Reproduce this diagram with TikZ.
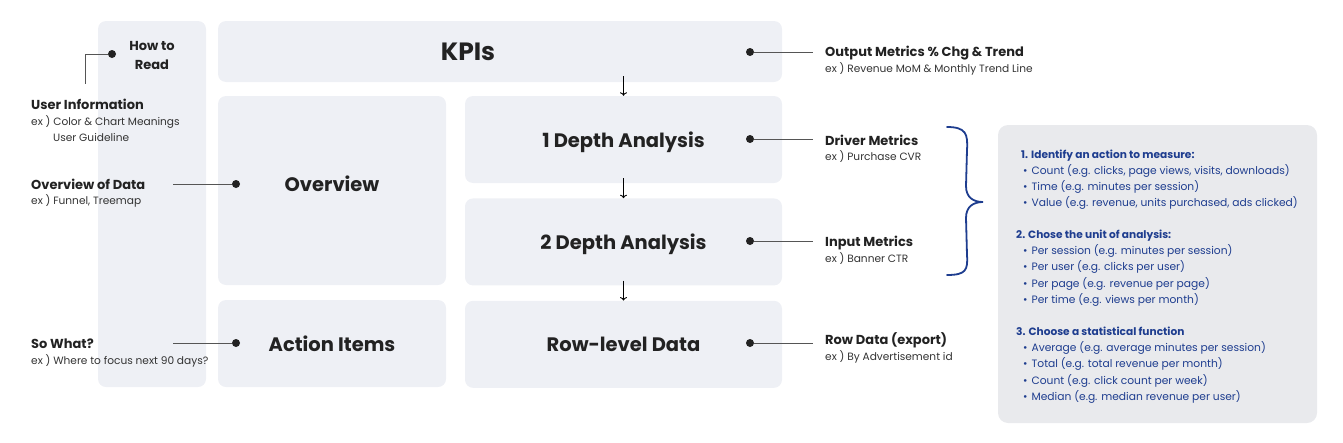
\documentclass[tikz,border=0pt]{standalone}
\usepackage{fontspec}
\setmainfont{Poppins}
\usetikzlibrary{positioning,arrows.meta}
\definecolor{boxgray}{HTML}{EEF0F5}
\definecolor{panelgray}{HTML}{E9EAED}
\definecolor{ink}{HTML}{222222}
\definecolor{notegray}{HTML}{333333}
\definecolor{linegray}{HTML}{555555}
\definecolor{navy}{HTML}{1E3D8F}
\tikzset{x=1pt, y=-1pt,
  block/.style={fill=boxgray, rounded corners=8pt, inner sep=0pt, text depth=0pt, text=ink, font=\bfseries\fontsize{19.5}{24}\selectfont},
  title/.style={inner sep=0pt, text depth=0pt, text=ink, font=\bfseries\fontsize{19.5}{24}\selectfont},
  heading/.style={anchor=base west, inner sep=0pt, text=ink, font=\bfseries\fontsize{13}{16}\selectfont},
  note/.style={anchor=base west, inner sep=0pt, text=notegray, font=\fontsize{10.6}{13}\selectfont},
  pindot/.style={circle, fill=ink, inner sep=0pt, minimum size=8pt},
  leader/.style={draw=linegray, line width=0.8pt},
  flow/.style={-{To[length=3.5pt, width=7pt]}, draw=black, line width=0.9pt},
  brace/.style={draw=navy, line width=1.8pt, line cap=round},
  steps/.style={anchor=north west, inner sep=0pt, text=navy, align=left, font=\fontsize{10.7}{16.13}\selectfont}
}
\newcommand{\stepitem}[1]{\hspace*{7pt}\textbullet\hspace*{4pt}#1}
\newcommand{\stephead}[1]{{\bfseries\fontsize{10.6}{16.13}\selectfont #1}}

\begin{document}
\begin{tikzpicture}
\useasboundingbox (0,0) rectangle (1343,442);
% layout blocks
\node (howto) [block, minimum width=108pt, minimum height=366pt] at (152,204) {};
\node (kpi) [block, minimum width=564pt, minimum height=61pt] at (500,51.5) {};
\node (overview) [block, minimum width=228pt, minimum height=189pt] at (332,190.5) {};
\node (action) [block, minimum width=228pt, minimum height=87pt] at (332,343.5) {Action Items};
\node (depth1) [block, minimum width=317pt, minimum height=87pt] at (623.5,139.5) {1 Depth Analysis};
\node (depth2) [block, minimum width=317pt, minimum height=87pt, below=15pt of depth1] {2 Depth Analysis};
\node (rowlevel) [block, minimum width=317pt, minimum height=87pt, below=15pt of depth2] {Row-level Data};
\node (kpititle) [title, font=\bfseries\fontsize{25}{28}\selectfont] at (468,52) {KPIs};
\node (ovtitle) [title] at (332,184) {Overview};

\draw[flow] ([yshift=6pt]kpi.south -| depth1.north) -- (depth1.north);
\draw[flow] ([yshift=5pt]depth1.south) -- (depth2.north);
\draw[flow] ([yshift=5pt]depth2.south) -- (rowlevel.north);

% metric labels
\node (kpidot) [pindot] at (750,52) {};
\node (d1dot) [pindot] at (750,139) {};
\node (d2dot) [pindot] at (750,241) {};
\node (rowdot) [pindot] at (750,343) {};
\node (outhead) [heading] at (825,56.5) {Output Metrics \% Chg \& Trend};
\node (outnote) [note] at (825,72) {ex ) Revenue MoM \& Monthly Trend Line};
\node (drvhead) [heading] at (825,145) {Driver Metrics};
\node (drvnote) [note] at (825,160.5) {ex ) Purchase CVR};
\node (inphead) [heading] at (825,246) {Input Metrics};
\node (inpnote) [note] at (825,262) {ex ) Banner CTR};
\node (rowhead) [heading] at (825,344) {Row Data (export)};
\node (rownote) [note] at (825,360) {ex ) By Advertisement id};
\draw[leader, shorten >=12pt] (kpidot) -- (kpidot -| outhead.west);
\draw[leader, shorten >=12pt] (d1dot) -- (d1dot -| drvhead.west);
\draw[leader, shorten >=12pt] (d2dot) -- (d2dot -| inphead.west);
\draw[leader, shorten >=12pt] (rowdot) -- (rowdot -| rowhead.west);

% reading guide
\node (readdot) [pindot] at (112,54) {};
\node (ovdot) [pindot] at (236,184) {};
\node (actdot) [pindot] at (236,343) {};
\coordinate (readend) at (85,84);
\coordinate (ovend) at (173,184);
\coordinate (actend) at (173,343);
\node (readtitle) [heading, anchor=center, align=center, font=\bfseries\fontsize{13}{19.3}\selectfont] at (152,55.4) {How to\\Read};
\node (userhead) [heading] at (31,109.3) {User Information};
\node (usernote) [note] at (31,125) {ex ) Color \& Chart Meanings};
\node (guidenote) [note] at (53,141) {User Guideline};
\node (ovhead) [heading] at (31,189) {Overview of Data};
\node (ovnote) [note] at (31,204) {ex ) Funnel, Treemap};
\node (sohead) [heading] at (31,348.3) {So What?};
\node (sonote) [note] at (31,364) {ex ) Where to focus next 90 days?};
\draw[leader] (readdot) -| (readend);
\draw[leader] (ovdot) -- (ovend);
\draw[leader] (actdot) -- (actend);

% measurement steps
\draw[brace] (947,127) .. controls (966,127) and (968,134) .. (967,150) -- (966,186) .. controls (966,198) and (974,202) .. (983,202) .. controls (974,202) and (966,206) .. (966,218) -- (967,255) .. controls (968,270) and (966,275) .. (947,275);
\node (panel) [fill=panelgray, rounded corners=10pt, minimum width=319pt, minimum height=298pt, inner sep=0pt] at (1157.5,274) {};
\node (step1) [steps] at (1016,149.5) {\stephead{\hspace*{5pt}1. Identify an action to measure:}\\
  \stepitem{Count (e.g. clicks, page views, visits, downloads)}\\
  \stepitem{Time (e.g. minutes per session)}\\
  \stepitem{Value (e.g. revenue, units purchased, ads clicked)}};
\node (step2) [steps] at (1016,230) {\stephead{2. Chose the unit of analysis:}\\
  \stepitem{Per session (e.g. minutes per session)}\\
  \stepitem{Per user (e.g. clicks per user)}\\
  \stepitem{Per page (e.g. revenue per page)}\\
  \stepitem{Per time (e.g. views per month)}};
\node (step3) [steps] at (1016,327) {\stephead{3. Choose a statistical function}\\
  \stepitem{Average (e.g. average minutes per session)}\\
  \stepitem{Total (e.g. total revenue per month)}\\
  \stepitem{Count (e.g. click count per week)}\\
  \stepitem{Median (e.g. median revenue per user)}};
\end{tikzpicture}
\end{document}
